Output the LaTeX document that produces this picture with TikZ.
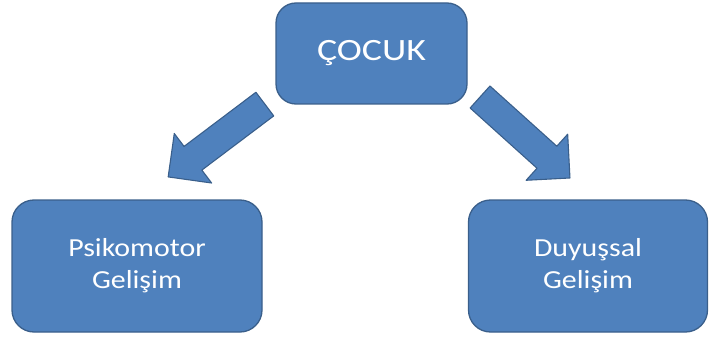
\documentclass[tikz,border=0pt]{standalone}
\usepackage{fontspec}
\setmainfont{Carlito}
\newfontfamily\topfont[FakeStretch=1.22]{Carlito}
\newfontfamily\boxfont[FakeStretch=1.15]{Carlito}
\usepackage{tikz}
\definecolor{officeblue}{HTML}{4F81BD}
\definecolor{officeedge}{HTML}{3A5F8B}
\begin{document}
\begin{tikzpicture}[
  x=1pt,y=1pt,
  every node/.style={align=center,text=white},
  box/.style={draw=officeedge,line width=1.3pt,fill=officeblue,
             rounded corners=22pt,inner sep=0pt},
  blockarr/.style={draw=officeedge,line width=1.1pt,fill=officeblue,line join=round}
]
\useasboundingbox (0,0) rectangle (709,338);
\node[box,minimum width=191pt,minimum height=101pt,rounded corners=20pt,
      font=\topfont\fontsize{31}{34}\selectfont] (cocuk) at (371.5,284.5) {ÇOCUK};
\node[box,minimum width=250pt,minimum height=132pt,
      font=\boxfont\fontsize{26}{32}\selectfont] (psiko) at (137,72) {Psikomotor\\Gelişim};
\node[box,minimum width=239pt,minimum height=132pt,
      font=\boxfont\fontsize{26}{32}\selectfont] (duyu) at (588,72) {Duyuşsal\\Gelişim};
\coordinate (larr) at (216.5,197.5);
\coordinate (rarr) at (525,200.5);
\draw[blockarr,shift={(larr)},rotate=217] (-60.5,-14.8) -- (29.5,-14.8) -- (29.5,-31)
  -- (60.5,0) -- (29.5,31) -- (29.5,14.8) -- (-60.5,14.8) -- cycle;
\draw[blockarr,shift={(rarr)},rotate=-42] (-60.5,-14.8) -- (29.5,-14.8) -- (29.5,-31)
  -- (60.5,0) -- (29.5,31) -- (29.5,14.8) -- (-60.5,14.8) -- cycle;
\end{tikzpicture}
\end{document}
